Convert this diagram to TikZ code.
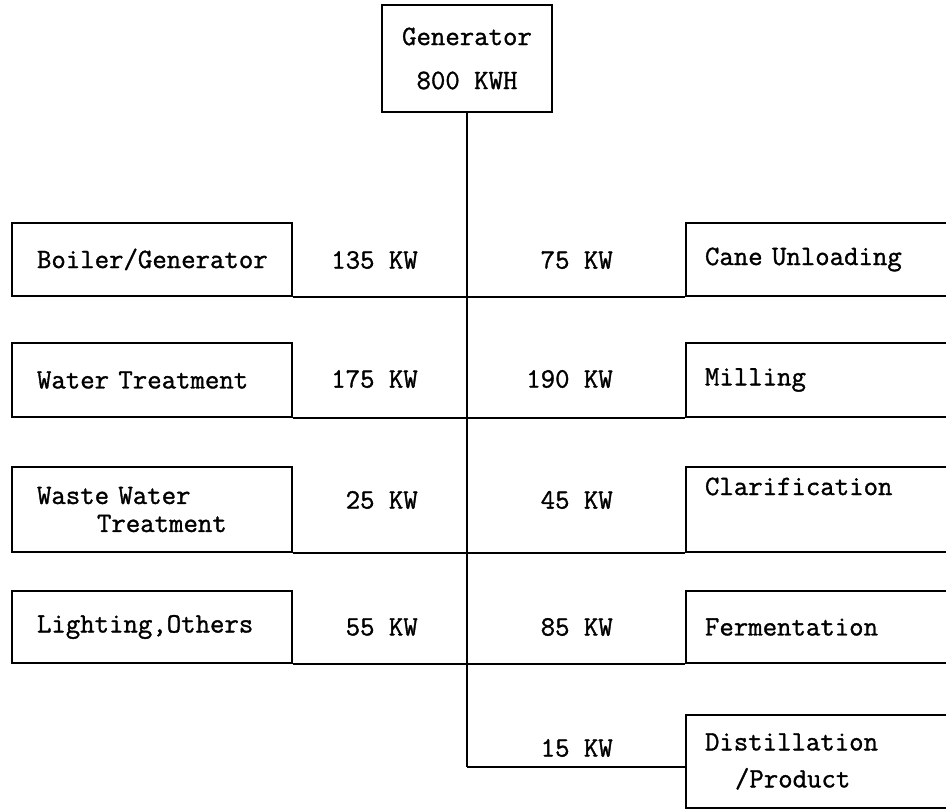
\documentclass[tikz,border=0pt]{standalone}
\usepackage{fontspec}
\newfontfamily\twfont{Latin Modern Mono}[FakeBold=1.2]
\begin{document}
\begin{tikzpicture}[x=1pt,y=-1pt,
  every node/.style={font=\twfont\fontsize{28}{28}\selectfont},
  box/.style={draw, line width=2.2pt, rectangle, inner ysep=0pt},
  lbox/.style={box, text width=230pt, align=left, inner xsep=25pt},
  rbox/.style={box, text width=242pt, align=left, inner xsep=19pt},
  kwl/.style={anchor=east, inner sep=0pt},
  wire/.style={line width=2.2pt}
]
\useasboundingbox (0,0) rectangle (946,810);
\clip (0,0) rectangle (946,810);

% generator
\node[box, align=center, minimum width=170pt, minimum height=107pt] (gen) at (467,58.5)
  {Generator\\[16pt]800 KWH};

% left boxes
\node[lbox, minimum height=73pt] (L1) at (152,259.5) {Boiler/Generator};
\node[lbox, minimum height=74pt] (L2) at (152,380) {Water Treatment};
\node[lbox, minimum height=85pt] (L3) at (152,509.5) {Waste Water\\\hspace*{60pt}Treatment};
\node[lbox, minimum height=72pt] (L4) at (152,627) {Lighting,Others};

% right boxes
\node[rbox, minimum height=73pt] (R1) at (826,259.5) {Cane Unloading};
\node[rbox, minimum height=74pt] (R2) at (826,380) {Milling};
\node[rbox, minimum height=85pt] (R3) at (826,509.5) {Clarification\\[10pt]\strut};
\node[rbox, minimum height=72pt] (R4) at (826,627) {Fermentation};
\node[rbox, minimum height=93pt] (R5) at (826,761.5) {Distillation\\[9pt]\hspace*{30pt}/Product};

% labels
\node[kwl] (k1l) at (418,260) {135 KW};
\node[kwl] (k2l) at (418,379) {175 KW};
\node[kwl] (k3l) at (418,500) {25 KW};
\node[kwl] (k4l) at (418,627) {55 KW};
\node[kwl] (k1r) at (613,260) {75 KW};
\node[kwl] (k2r) at (613,379) {190 KW};
\node[kwl] (k3r) at (613,500) {45 KW};
\node[kwl] (k4r) at (613,627) {85 KW};
\node[kwl] (k5r) at (613,748) {15 KW};

% connectors
\coordinate (trunkend) at (467,767);
\draw[wire] (gen.south) -- (trunkend);
\draw[wire] (L1.south east) -- (R1.south west);
\draw[wire] (L2.south east) -- (R2.south west);
\draw[wire] (L3.south east) -- (R3.south west);
\draw[wire] (L4.south east) -- (R4.south west);
\draw[wire] (trunkend) -- (trunkend -| R5.west);
\end{tikzpicture}
\end{document}
